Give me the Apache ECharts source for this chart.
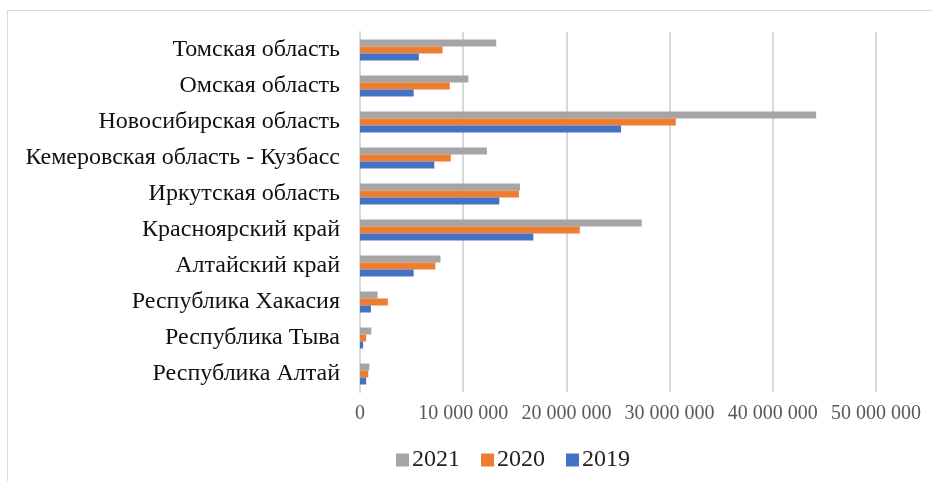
<!DOCTYPE html>
<html>
<head>
<meta charset="utf-8">
<script src="https://cdn.jsdelivr.net/npm/echarts@6/dist/echarts.min.js"></script>
<style>html,body{margin:0;padding:0;background:#fff;}#c{width:932px;height:481px;}</style>
</head>
<body>
<div id="c"></div>
<script>
const categories = ["Республика Алтай","Республика Тыва","Республика Хакасия","Алтайский край","Красноярский край","Иркутская область","Кемеровская область - Кузбасс","Новосибирская область","Омская область","Томская область"];
const values2019 = [600000, 300000, 1060000, 5200000, 16800000, 13500000, 7200000, 25300000, 5200000, 5700000];
const values2020 = [800000, 600000, 2700000, 7300000, 21300000, 15400000, 8800000, 30600000, 8700000, 8000000];
const values2021 = [900000, 1100000, 1700000, 7800000, 27300000, 15500000, 12300000, 44200000, 10500000, 13200000];
const seriesNames = ["2021","2020","2019"];
const legendOrder = ["2021","2020","2019"];
const colors = {"2019":"#4472C4","2020":"#ED7D31","2021":"#A5A5A5"};

const chart = echarts.init(document.getElementById('c'), null, {renderer:'canvas'});
const fmt = v => v === 0 ? '0' : String(v).replace(/\B(?=(\d{3})+(?!\d))/g, ' ');
const dataBy = {"2019":values2019,"2020":values2020,"2021":values2021};
chart.setOption({
  backgroundColor:'#fff',
  animation:false,
  textStyle:{fontFamily:'Liberation Serif'},
  graphic:[{type:'rect',shape:{x:7.5,y:10.5,width:1000,height:1000},style:{fill:'none',stroke:'#d9d9d9',lineWidth:1},silent:true}],
  grid:{left:360,right:56,top:32,bottom:89,containLabel:false},
  legend:{data:legendOrder,top:448,left:396,padding:0,itemWidth:13,itemHeight:13,itemGap:21,icon:'rect',
    textStyle:{fontFamily:'Liberation Serif',fontSize:24,color:'#222',padding:[0,0,0,-2]}},
  xAxis:{type:'value',min:0,max:50000000,interval:10000000,
    axisLine:{show:false},axisTick:{show:false},
    splitLine:{lineStyle:{color:'#d9d9d9',width:2}},
    axisLabel:{formatter:fmt,fontFamily:'Liberation Serif',fontSize:20,color:'#595959',margin:12}},
  yAxis:{type:'category',data:categories,
    axisLine:{show:true,lineStyle:{color:'#d9d9d9',width:2}},axisTick:{show:false},
    axisLabel:{fontFamily:'Liberation Serif',fontSize:24,color:'#111',margin:20}},
  series:seriesNames.map(n=>({name:n,type:'bar',data:dataBy[n],barWidth:7,barGap:'0%',
    itemStyle:{color:colors[n]}}))
});
</script>
</body>
</html>
